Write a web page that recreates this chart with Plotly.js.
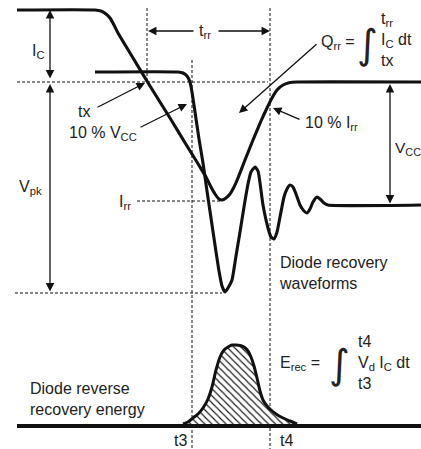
<!DOCTYPE html>
<html><head><meta charset="utf-8">
<script src="https://cdn.plot.ly/plotly-3.0.1.min.js"></script>
<style>html,body{margin:0;padding:0;background:#fff;overflow:hidden}#c{width:421px;height:449px}</style>
</head><body><div id="c"></div>
<script>
// All coordinates are in the picture's own pixel space (x right, y down).
// Collector (diode) current waveform
const icX = [17, 95, 101, 106, 110, 114, 118, 130, 150, 170, 187, 200, 206, 211, 215, 219, 222, 226, 230, 234, 238, 245, 253, 261, 267, 272, 277, 283, 290, 297, 421];
const icY = [10, 10, 11, 14, 18, 25, 33, 53, 86, 118, 146, 167, 177, 187, 194, 199, 200, 198, 194, 187, 178, 160, 140, 121, 108, 98, 90, 85, 82.5, 82, 82];
// Voltage waveform with ringing
const vX = [95, 178, 183, 187, 190, 192, 195, 199, 203, 207, 211, 215, 219, 222, 225, 228, 232, 236, 240, 244, 248, 251, 255, 258, 263, 268, 271, 274, 277, 280, 284, 287, 290, 293, 296, 300, 304, 307, 310, 313, 317, 320, 324, 328, 421];
const vY = [72, 72, 73, 76, 82, 92, 112, 139, 163, 191, 218, 245, 271, 286, 292, 288, 280, 256, 232, 207, 184, 172, 167, 171, 205, 228, 237, 239, 232, 217, 197, 189, 185, 187, 194, 205, 211, 213, 209, 202, 197, 199, 203, 205, 205];
// Reverse recovery energy pulse
const eX = [183, 188, 193, 198, 203, 208, 212, 216, 220, 224, 228, 232, 236, 240, 244, 248, 251, 254, 257, 260, 263, 267, 271, 276, 283, 290, 297];
const eY = [424, 422, 418, 414, 408, 399, 387, 370, 357, 350, 347, 345, 345, 345.5, 347, 351, 357, 366, 378, 391, 400, 406, 410, 414, 418, 421, 424];
const baseX = [17, 421];
const baseY = [426, 426];
// Dashed reference lines (segments separated by null)
const dashX = [17, 268, null, 137, 220, null, 15, 222, null, 147, 147, null, 192, 192, null, 270, 270];
const dashY = [82, 82, null, 201, 201, null, 293, 293, null, 8, 82, null, 60, 449, null, 8, 449];
// Dimension / pointer arrows: head (x,y), tail (ax,ay), double-headed flag
const arrX  = [50, 50, 148, 270, 145, 187, 239, 273, 390];
const arrY  = [10, 84, 31, 31, 83, 104, 113, 108, 84];
const arrAX = [50, 50, 195, 217, 96, 139, 318, 301, 390];
const arrAY = [80, 293, 31, 31, 108, 128, 43, 120, 205];
const arrBoth = [true, true, false, false, false, false, false, false, true];

const INK = '#111';
const TXT = '#222';
const FONT = 'Liberation Sans, Arial, Helvetica, sans-serif';

const traces = [
  {x: dashX, y: dashY, mode: 'lines', line: {color: INK, width: 1, dash: '3px,2px'}, hoverinfo: 'skip'},
  {x: eX, y: eY, mode: 'lines', fill: 'toself', fillcolor: 'rgba(0,0,0,0)',
   fillpattern: {shape: '\\', size: 5, solidity: 0.22, fgcolor: INK, bgcolor: 'white'},
   line: {color: INK, width: 3, shape: 'spline', smoothing: 0.6}, hoverinfo: 'skip'},
  {x: baseX, y: baseY, mode: 'lines', line: {color: INK, width: 3.8}, hoverinfo: 'skip'},
  {x: icX, y: icY, mode: 'lines', line: {color: INK, width: 3.1, shape: 'spline', smoothing: 0.5}, hoverinfo: 'skip'},
  {x: vX, y: vY, mode: 'lines', line: {color: INK, width: 3.1, shape: 'spline', smoothing: 0.5}, hoverinfo: 'skip'}
];

const ann = [];
for (let i = 0; i < arrX.length; i++) {
  ann.push({x: arrX[i], y: arrY[i], ax: arrAX[i], ay: arrAY[i], xref: 'x', yref: 'y', axref: 'x', ayref: 'y',
    text: '', showarrow: true, arrowhead: 2, startarrowhead: 2, arrowside: arrBoth[i] ? 'end+start' : 'end',
    arrowsize: 1.3, startarrowsize: 1.3, arrowwidth: 1.3, arrowcolor: INK, standoff: 0, startstandoff: 0});
}
function label(x, y, text, xanchor, size, family) {
  ann.push({x: x, y: y, xref: 'x', yref: 'y', text: text, showarrow: false,
    xanchor: xanchor || 'center', yanchor: 'middle', align: 'left',
    font: {family: family || FONT, size: size || 16, color: TXT}});
}
label(38, 51, 'I<sub>C</sub>');
label(30, 187, 'V<sub>pk</sub>');
label(205, 31, 't<sub>rr</sub>');
label(84, 111, 'tx');
label(103, 133, '10 % V<sub>CC</sub>');
label(125, 202, 'I<sub>rr</sub>');
label(331, 123, '10 % I<sub>rr</sub>');
label(393, 148, 'V<sub>CC</sub>', 'left', 15.5);
label(277, 273, 'Diode recovery<br>waveforms', 'left');
label(28, 399, 'Diode reverse<br>recovery energy', 'left');
label(180, 440, 't3');
label(286, 440, 't4');
// Q_rr formula
label(338, 42, 'Q<sub>rr</sub> =');
label(367, 44, '<i>∫</i>', 'center', 40, 'DejaVu Sans, sans-serif');
label(379, 39, 't<sub>rr</sub><br>I<sub>C</sub> dt<br>tx', 'left');
// E_rec formula
label(300, 363, 'E<sub>rec</sub> =');
label(339, 364, '<i>∫</i>', 'center', 40, 'DejaVu Sans, sans-serif');
label(356, 362, 't4<br>V<sub>d</sub> I<sub>C</sub> dt<br>t3', 'left');

const layout = {
  width: 421, height: 449, margin: {l: 0, r: 0, t: 0, b: 0},
  paper_bgcolor: 'white', plot_bgcolor: 'white', showlegend: false,
  xaxis: {range: [0, 421], visible: false, fixedrange: true},
  yaxis: {range: [449, 0], visible: false, fixedrange: true},
  annotations: ann
};
Plotly.newPlot('c', traces, layout, {staticPlot: true, displayModeBar: false});
</script>
</body></html>
